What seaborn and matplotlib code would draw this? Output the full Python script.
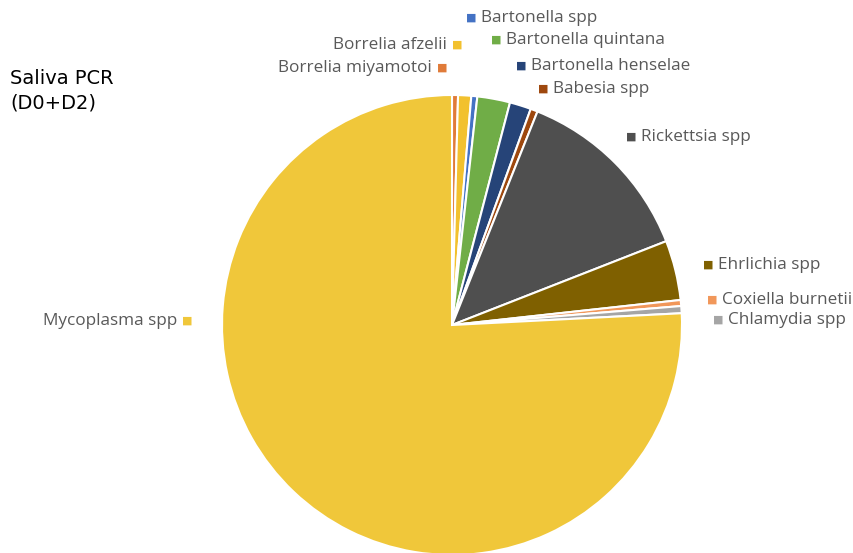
import matplotlib
matplotlib.use("Agg")
import matplotlib.pyplot as plt
import seaborn as sns

sns.set_theme(style="white")
plt.rcParams['font.family'] = ['Open Sans', 'DejaVu Sans']

categories = ["Borrelia miyamotoi", "Borrelia afzelii", "Bartonella spp", "Bartonella quintana",
              "Bartonella henselae", "Babesia spp", "Rickettsia spp", "Ehrlichia spp",
              "Coxiella burnetii", "Chlamydia spp", "Mycoplasma spp"]
values = [0.42, 0.92, 0.42, 2.3, 1.5, 0.5, 13.0, 4.2, 0.42, 0.5, 75.8]
colors = ["#E07B39", "#F2C12E", "#4472C4", "#70AD47", "#264478", "#9E480E",
          "#4F4F4F", "#7F6000", "#F1975A", "#A5A5A5", "#F0C73A"]

W, H = 854, 553
fig = plt.figure(figsize=(W / 100, H / 100), dpi=100)
cx, cy, r = 452, 325, 230
ax = fig.add_axes([(cx - r) / W, (H - cy - r) / H, 2 * r / W, 2 * r / H])
ax.pie(values, colors=colors, startangle=90, counterclock=False, radius=1,
       wedgeprops=dict(edgecolor="white", linewidth=1.5))
ax.set_xlim(-1, 1)
ax.set_ylim(-1, 1)
ax.set_aspect("equal")
ax.axis("off")

# label layout: (text_x, y, side) in pixels; side 'r' = marker left of text, 'l' = text left of marker
layout = {
    "Bartonella spp": (481, 18, 'r'),
    "Bartonella quintana": (506, 40, 'r'),
    "Borrelia afzelii": (447, 45, 'l'),
    "Borrelia miyamotoi": (432, 68, 'l'),
    "Bartonella henselae": (531, 66, 'r'),
    "Babesia spp": (553, 89, 'r'),
    "Rickettsia spp": (641, 137, 'r'),
    "Ehrlichia spp": (718, 265, 'r'),
    "Coxiella burnetii": (722, 300, 'r'),
    "Chlamydia spp": (728, 320, 'r'),
    "Mycoplasma spp": (177, 321, 'l'),
}
txtcol = "#595959"
for name, col in zip(categories, colors):
    x, y, side = layout[name]
    fy = (H - y) / H
    if side == 'r':
        fig.text(x / W, fy, name, ha="left", va="center", fontsize=12.3, color=txtcol)
        mx = x - 10
    else:
        fig.text(x / W, fy, name, ha="right", va="center", fontsize=12.3, color=txtcol)
        mx = x + 10
    fig.text(mx / W, fy, "■", ha="center", va="center", fontsize=8,
             color=col, family="DejaVu Sans")

fig.text(10 / W, (H - 78) / H, "Saliva PCR", ha="left", va="center", fontsize=14,
         color="black", family="DejaVu Sans")
fig.text(10 / W, (H - 103) / H, "(D0+D2)", ha="left", va="center", fontsize=14,
         color="black", family="DejaVu Sans")

fig.savefig("out.png", dpi=100, facecolor="white")
